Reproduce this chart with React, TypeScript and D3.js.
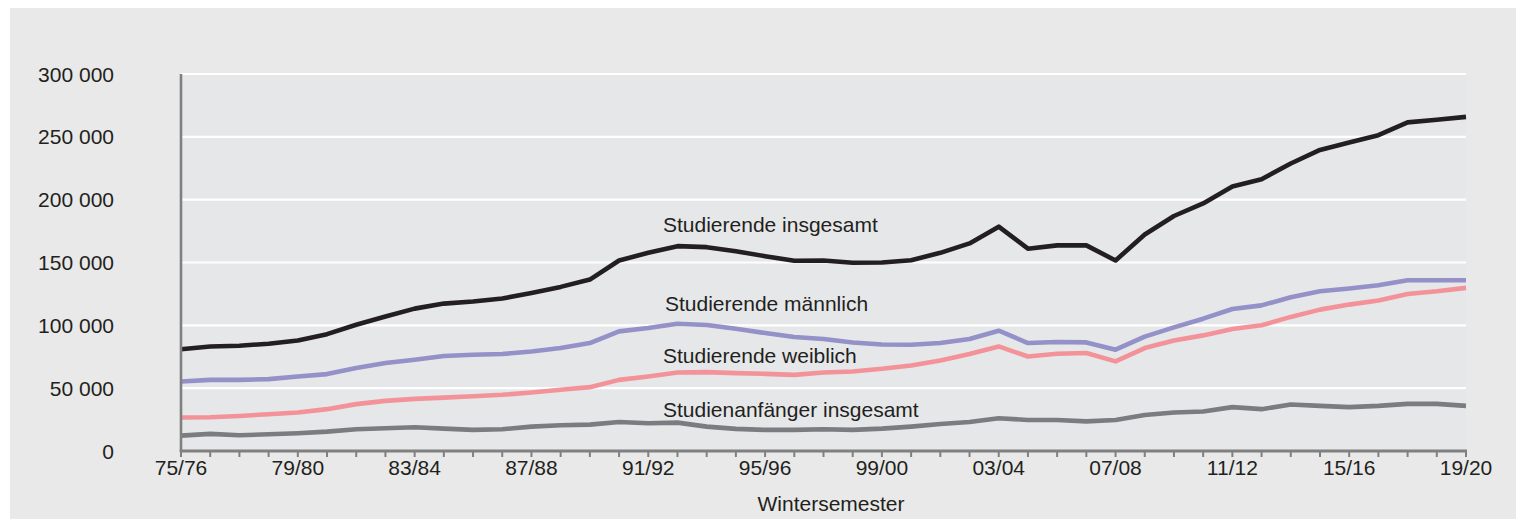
import React from "react";
import * as d3 from "d3";

// Wintersemester 1975/76 .. 2019/20, values in thousands
const semesters = [
  "75/76", "76/77", "77/78", "78/79", "79/80", "80/81", "81/82", "82/83", "83/84", "84/85",
  "85/86", "86/87", "87/88", "88/89", "89/90", "90/91", "91/92", "92/93", "93/94", "94/95",
  "95/96", "96/97", "97/98", "98/99", "99/00", "00/01", "01/02", "02/03", "03/04", "04/05",
  "05/06", "06/07", "07/08", "08/09", "09/10", "10/11", "11/12", "12/13", "13/14", "14/15",
  "15/16", "16/17", "17/18", "18/19", "19/20",
];
const tickLabels = ["75/76", "79/80", "83/84", "87/88", "91/92", "95/96", "99/00", "03/04", "07/08", "11/12", "15/16", "19/20"];
const yTicks = [0, 50, 100, 150, 200, 250, 300];

const insgesamt = [
  81, 83.2, 83.8, 85.4, 88, 93, 100.5, 107, 113.3, 117.3,
  119, 121.3, 125.8, 130.6, 136.4, 151.6, 157.7, 163, 162.2, 159,
  155, 151.4, 151.6, 149.8, 150, 151.8, 157.7, 165.2, 178.5, 161,
  163.6, 163.6, 151.6, 172.3, 187, 197, 210.4, 216.2, 228.8, 239.6,
  245.5, 251.3, 261.5, 263.6, 265.9,
];
const maennlich = [
  55.3, 56.6, 56.6, 57.2, 59.3, 61.2, 66, 70, 72.6, 75.6,
  76.6, 77.2, 79.2, 81.9, 85.9, 95.2, 97.9, 101.3, 100.3, 97.3,
  93.9, 90.7, 89.1, 86.4, 84.8, 84.6, 85.9, 89.1, 95.7, 85.9,
  86.7, 86.4, 80.6, 91, 98.4, 105.3, 113, 115.9, 122.3, 127.1,
  129.3, 131.9, 135.9, 135.9, 135.9,
];
const weiblich = [
  26.6, 26.9, 27.9, 29.3, 30.6, 33.3, 37.3, 39.9, 41.5, 42.5,
  43.6, 44.7, 46.5, 48.7, 50.8, 56.6, 59.3, 62.5, 62.8, 62,
  61.4, 60.6, 62.5, 63.3, 65.4, 68.1, 72, 77.2, 83.2, 75.2,
  77.4, 78, 71.3, 81.9, 88, 92, 97.1, 100, 106.7, 112.5,
  116.5, 119.7, 125, 127.1, 129.8,
];
const anfaenger = [
  12.2, 13.6, 12.5, 13.3, 14.1, 15.4, 17.3, 18.1, 18.9, 17.8,
  16.8, 17.3, 19.4, 20.5, 21, 23.1, 22.1, 22.6, 19.4, 17.6,
  16.8, 16.8, 17.3, 16.8, 17.8, 19.4, 21.5, 23.1, 26.1, 24.7,
  24.7, 23.6, 24.7, 28.7, 30.6, 31.4, 34.9, 33.3, 37, 35.9,
  34.9, 35.9, 37.5, 37.5, 35.9,
];

const series = [
  { name: "Studierende insgesamt", values: insgesamt, color: "#231f20", lx: 663, ly: 232 },
  { name: "Studierende männlich", values: maennlich, color: "#9391c8", lx: 665, ly: 311 },
  { name: "Studierende weiblich", values: weiblich, color: "#f39399", lx: 663, ly: 363 },
  { name: "Studienanfänger insgesamt", values: anfaenger, color: "#7b7c7f", lx: 663, ly: 417 },
];

export default function App() {
  const width = 1523;
  const height = 519;
  const left = 181, right = 1466, top = 74, bottom = 451;

  const x = d3.scaleLinear().domain([0, semesters.length - 1]).range([left, right]);
  const y = d3.scaleLinear().domain([0, 300]).range([bottom, top]);

  const line = d3.line<number>()
    .x((_, i) => x(i))
    .y(d => y(d));

  const font = "'Liberation Sans', Arial, sans-serif";

  return (
    <svg width={width} height={height} style={{ position: "absolute", left: 0, top: 0 }} fontFamily={font}>
      <rect x={0} y={0} width={width} height={height} fill="#ffffff" />
      <rect x={10} y={8} width={1506} height={height - 8} fill="#e8e9e8" />
      <rect x={left} y={top} width={right - left} height={bottom - top} fill="#e6e7e9" />

      {yTicks.filter(t => t > 0).map(t => (
        <line key={t} x1={left} x2={right} y1={y(t)} y2={y(t)} stroke="#ffffff" strokeWidth={2.2} />
      ))}
      {yTicks.map(t => (
        <text key={t} x={114} y={y(t) + 7.5} textAnchor="end" fontSize={21} fill="#231f20">
          {t === 0 ? "0" : `${t} 000`}
        </text>
      ))}

      {semesters.map((s, i) => (
        <line key={s} x1={x(i)} x2={x(i)} y1={bottom} y2={bottom + 6} stroke="#808080" strokeWidth={2} />
      ))}
      {semesters.map((s, i) => tickLabels.includes(s) ? (
        <text key={s} x={x(i)} y={475} textAnchor="middle" fontSize={21} fill="#231f20">{s}</text>
      ) : null)}

      {series.map(s => (
        <path key={s.name} d={line(s.values) || ""} fill="none" stroke={s.color}
          strokeWidth={4.6} strokeLinejoin="round" />
      ))}

      <line x1={left} x2={left} y1={top} y2={bottom} stroke="#808080" strokeWidth={2.6} />
      <line x1={left - 1.3} x2={right + 1} y1={bottom} y2={bottom} stroke="#808080" strokeWidth={3} />

      {series.map(s => (
        <text key={s.name} x={s.lx} y={s.ly} fontSize={21} fill="#231f20">{s.name}</text>
      ))}

      <text x={831} y={511} textAnchor="middle" fontSize={21} fill="#231f20">Wintersemester</text>
    </svg>
  );
}
